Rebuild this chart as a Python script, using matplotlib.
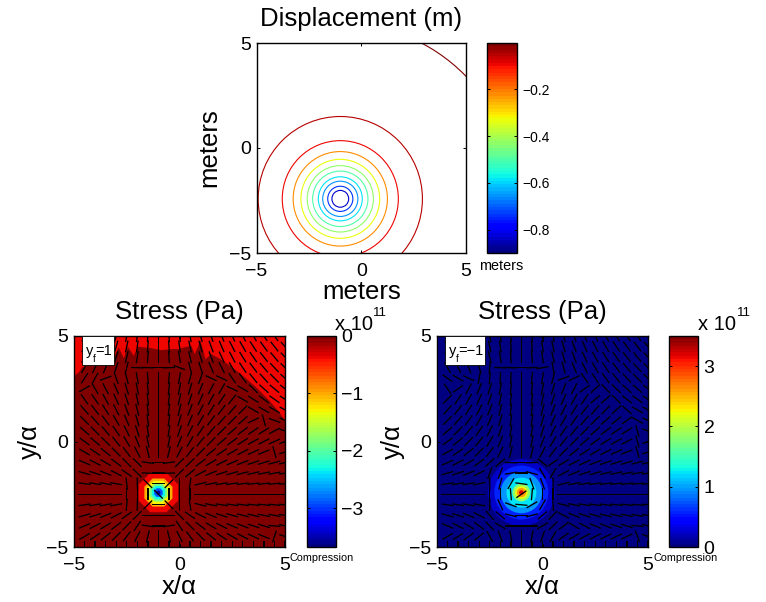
import numpy as np
import matplotlib
matplotlib.use("Agg")
import matplotlib.pyplot as plt
from matplotlib.cm import ScalarMappable
from matplotlib.colors import Normalize
from matplotlib.patches import Circle, RegularPolygon, Rectangle

plt.rcParams['font.family'] = ['Liberation Sans', 'DejaVu Sans']
plt.rcParams['axes.unicode_minus'] = True

W, H = 766, 602

# source location
src_x, src_y = -1.0, -2.42

# displacement contours
disp_radii = [8.37, 3.92, 2.77, 2.25, 1.88, 1.58, 1.32, 1.05, 0.84, 0.60, 0.40]
disp_levels = [-0.012, -0.05, -0.10, -0.22, -0.33, -0.43, -0.50, -0.58, -0.66, -0.74, -0.83]
disp_range = (-0.898, -0.004)
disp_ticks = [-0.8, -0.6, -0.4, -0.2]

# left stress panel: nested bands
left_range = (-3.67, 0.0)
left_ticks = [-3, -2, -1, 0]
left_bg = 0.0
left_band_values = [-0.4, -1.0, -1.3, -1.85, -2.3, -2.9, -3.5]
left_band_radii = [1.01, 0.72, 0.60, 0.46, 0.34, 0.22, 0.10]
left_band_sides = [8, 8, 8, 8, 8, 8, 8]
left_red_value = -0.4
left_red_x = [-5.0, -5.0, -4.77, -4.62, -3.04, -2.88, -2.64, -2.44, -2.17, -1.96, -1.38, -0.9, -0.35,
              -0.07, 0.56, 0.72, 1.0, 1.23, 1.5, 1.95, 2.46, 3.09, 3.6, 4.2, 4.67, 5.0, 5.0]
left_red_y = [5.0, 3.1, 3.27, 3.51, 4.14, 4.46, 3.95, 4.49, 4.06, 4.49, 4.43, 4.33, 4.38,
              4.38, 4.54, 4.14, 4.77, 3.9, 4.14, 3.9, 3.55, 3.04, 2.6, 2.0, 1.46, 1.0, 5.0]

# right stress panel: nested bands
right_range = (0.0, 3.5)
right_ticks = [0, 1, 2, 3]
right_bg = 0.0
right_band_values = [0.25, 0.6, 0.95, 1.25, 1.85, 2.2, 2.6, 3.2]
right_band_radii = [1.58, 1.28, 0.98, 0.71, 0.42, 0.30, 0.22, 0.11]

# tick-mark grid for the principal stress directions
grid_x = [-4.5, -4, -3.5, -3, -2.5, -2, -1.5, -1, -0.5, 0, 0.5, 1, 1.5, 2, 2.5, 3, 3.5, 4, 4.5, 5]
grid_y = [5, 4.5, 4, 3.5, 3, 2.5, 2, 1.5, 1, 0.5, 0, -0.5, -1, -1.5, -2, -2.5, -3, -3.5, -4, -4.5, -5]

# direction in degrees at every grid point, rows from top to bottom
left_angles = [
    [65, 68, 72, 75, 79, 82, 86, 90, 94, 98, 101, 105, 108, 112, 115, 118, 121, 124, 126, 129],
    [63, 67, 70, 74, 78, 82, 86, 90, 94, 98, 102, 106, 110, 113, 117, 120, 123, 126, 128, 131],
    [62, 65, 69, 73, 77, 81, 86, 90, 94, 99, 103, 107, 111, 115, 118, 122, 125, 128, 130, 133],
    [60, 63, 67, 72, 76, 178, 178, 0, 2, 160, 104, 108, 113, 117, 120, 124, 127, 130, 133, 135],
    [57, 61, 20, 110, 105, 100, 95, 90, 85, 80, 75, 70, 155, 155, 124, 126, 129, 132, 135, 138],
    [30, 120, 117, 113, 107, 101, 96, 90, 84, 79, 73, 68, 63, 60, 155, 150, 136, 138, 140, 142],
    [125, 124, 119, 114, 108, 102, 96, 90, 84, 78, 72, 66, 61, 56, 52, 150, 148, 143, 145, 147],
    [131, 127, 122, 117, 111, 104, 97, 90, 83, 76, 69, 63, 58, 53, 49, 45, 150, 150, 150, 152],
    [135, 131, 126, 120, 113, 106, 98, 90, 82, 74, 67, 60, 54, 49, 45, 41, 25, 105, 160, 155],
    [139, 135, 130, 124, 117, 108, 99, 90, 81, 72, 63, 56, 50, 45, 41, 37, 34, 31, 28, 160],
    [144, 140, 135, 129, 121, 112, 101, 90, 79, 68, 59, 51, 45, 40, 36, 32, 29, 27, 24, 22],
    [150, 146, 141, 135, 127, 117, 104, 90, 76, 63, 53, 45, 39, 34, 30, 27, 24, 22, 105, 18],
    [157, 153, 149, 143, 135, 135, 172, 0, 8, 45, 45, 37, 31, 27, 23, 21, 18, 17, 15, 14],
    [164, 162, 158, 153, 145, 135, 178, 0, 2, 45, 40, 27, 22, 18, 16, 14, 13, 11, 10, 9],
    [172, 171, 170, 170, 97, 92, 135, 0, 45, 90, 82, 14, 11, 9, 8, 7, 6, 6, 5, 5],
    [0, 0, 0, 0, 90, 90, 90, 135, 90, 90, 90, 0, 0, 0, 0, 0, 0, 0, 0, 0],
    [8, 9, 10, 10, 85, 88, 45, 0, 135, 90, 98, 166, 169, 171, 172, 173, 174, 174, 175, 175],
    [16, 18, 22, 27, 35, 45, 0, 0, 0, 135, 146, 153, 158, 162, 164, 166, 167, 169, 170, 171],
    [23, 27, 31, 37, 45, 56, 172, 0, 8, 124, 135, 143, 149, 153, 157, 159, 162, 163, 175, 166],
    [30, 34, 39, 45, 53, 63, 76, 90, 104, 117, 127, 135, 141, 146, 150, 153, 156, 158, 72, 162],
    [90, 90, 90, 90, 90, 90, 90, 90, 90, 90, 90, 90, 90, 90, 90, 90, 90, 90, 90, 90],
]
right_angles = [
    [115, 112, 108, 105, 101, 98, 94, 90, 94, 98, 101, 105, 108, 112, 115, 118, 121, 124, 126, 129],
    [117, 113, 110, 106, 102, 98, 94, 90, 94, 98, 102, 106, 110, 113, 117, 120, 123, 126, 128, 131],
    [118, 115, 111, 107, 103, 99, 94, 90, 94, 99, 103, 107, 111, 115, 118, 122, 125, 128, 130, 133],
    [120, 117, 113, 108, 85, 178, 178, 0, 2, 10, 100, 105, 113, 117, 120, 124, 127, 130, 133, 135],
    [145, 150, 155, 80, 85, 88, 89, 90, 85, 82, 76, 20, 25, 125, 124, 126, 129, 132, 135, 138],
    [125, 35, 62, 68, 73, 79, 85, 90, 84, 79, 73, 68, 63, 35, 42, 135, 136, 138, 140, 142],
    [45, 56, 61, 66, 72, 78, 84, 90, 84, 78, 72, 66, 61, 56, 40, 42, 135, 143, 145, 147],
    [49, 53, 58, 63, 69, 76, 83, 90, 83, 76, 69, 63, 58, 53, 49, 45, 42, 140, 150, 152],
    [45, 49, 54, 60, 67, 74, 82, 90, 82, 74, 67, 60, 54, 49, 45, 41, 38, 35, 150, 155],
    [41, 45, 50, 56, 63, 72, 81, 90, 81, 72, 63, 56, 50, 45, 41, 37, 34, 31, 105, 160],
    [36, 40, 45, 51, 59, 68, 79, 90, 79, 68, 59, 51, 45, 40, 36, 32, 29, 27, 105, 20],
    [30, 34, 39, 45, 53, 63, 76, 90, 76, 63, 53, 45, 39, 34, 30, 27, 24, 22, 105, 18],
    [23, 27, 31, 37, 42, 40, 178, 0, 2, 140, 35, 31, 27, 24, 21, 19, 18, 17, 15, 14],
    [16, 18, 22, 27, 70, 70, 10, 0, 165, 120, 60, 27, 22, 18, 16, 14, 13, 11, 10, 9],
    [8, 9, 10, 12, 92, 75, 60, 172, 110, 110, 92, 14, 11, 9, 8, 7, 6, 6, 5, 5],
    [0, 0, 0, 0, 90, 90, 95, 35, 85, 90, 90, 0, 0, 0, 0, 0, 0, 0, 0, 0],
    [172, 171, 170, 170, 88, 115, 160, 175, 30, 60, 95, 166, 169, 171, 172, 173, 174, 174, 175, 175],
    [164, 162, 158, 153, 130, 140, 165, 0, 15, 40, 45, 153, 158, 162, 164, 166, 167, 169, 170, 171],
    [157, 153, 149, 143, 135, 150, 0, 0, 0, 30, 45, 37, 149, 153, 157, 159, 162, 163, 175, 166],
    [30, 32, 35, 38, 120, 110, 100, 90, 80, 70, 60, 35, 30, 28, 26, 25, 25, 25, 110, 160],
    [90, 90, 90, 90, 90, 90, 90, 90, 90, 90, 90, 90, 90, 90, 90, 90, 90, 90, 90, 90],
]

cmap = plt.get_cmap('jet', 64)
fig = plt.figure(figsize=(W / 100, H / 100), dpi=100)


def box(x0, y0, x1, y1):
    return [x0 / W, 1 - y1 / H, (x1 - x0) / W, (y1 - y0) / H]


def px_text(x, y, s, **kw):
    return fig.text(x / W, 1 - y / H, s, **kw)


def style_axes(ax):
    ax.set_xlim(-5, 5)
    ax.set_ylim(-5, 5)
    ax.set_xticks([-5, 0, 5])
    ax.set_yticks([-5, 0, 5])
    ax.tick_params(direction='in', length=2.5, width=0.7, top=True, right=True,
                   labelsize=14)
    ax.tick_params(axis='x', pad=7)
    ax.tick_params(axis='y', pad=4)
    for s in ax.spines.values():
        s.set_linewidth(1.0)


def colorbar(rect, rng, ticks, labels=None, size=14):
    cax = fig.add_axes(box(*rect))
    sm = ScalarMappable(norm=Normalize(*rng), cmap=cmap)
    cb = fig.colorbar(sm, cax=cax)
    cb.set_ticks(ticks)
    if labels is not None:
        cb.set_ticklabels(labels)
    cax.tick_params(direction='in', length=2.5, width=0.7, labelsize=size, pad=4,
                    left=True, right=True)
    cb.outline.set_linewidth(1.0)
    return cb


def draw_ticks(ax, angles):
    X, Y = np.meshgrid(grid_x, grid_y)
    a = np.radians(np.array(angles, dtype=float))
    seg = 0.58
    ax.quiver(X, Y, seg * np.cos(a), seg * np.sin(a), pivot='mid', angles='xy',
              scale_units='xy', scale=1, width=0.0062, headwidth=1, headlength=0,
              headaxislength=0, color='black', zorder=5)


# ---------- top panel ----------
ax = fig.add_axes(box(256.5, 43, 466, 253))
style_axes(ax)
norm = Normalize(*disp_range)
for r, v in zip(disp_radii, disp_levels):
    ax.add_patch(Circle((src_x, src_y), r, fill=False, ec=cmap(norm(v)), lw=0.8))
ax.set_xlabel('meters', fontsize=18.5, labelpad=0)
ax.set_ylabel('meters', fontsize=18.5, labelpad=5)
ax.set_title('Displacement (m)', fontsize=18.5, pad=12)
colorbar((487, 43, 517, 253), disp_range, disp_ticks,
         ['\u22120.8', '\u22120.6', '\u22120.4', '\u22120.2'], size=10)
px_text(501.5, 266, 'meters', fontsize=10.4, ha='center', va='center')

# ---------- bottom left ----------
ax = fig.add_axes(box(74, 336, 285, 547))
style_axes(ax)
norm = Normalize(*left_range)
ax.set_facecolor(cmap(norm(left_bg)))
ax.fill(left_red_x, left_red_y, color=cmap(norm(left_red_value)), lw=0, zorder=1)
for r, v, n in zip(left_band_radii, left_band_values, left_band_sides):
    ax.add_patch(RegularPolygon((src_x, src_y), n, radius=r, orientation=np.pi / 8,
                                fc=cmap(norm(v)), ec='none', zorder=2))
draw_ticks(ax, left_angles)
ax.add_patch(Rectangle((-4.62, 3.63), 1.52, 1.36, fc='white', ec='black', lw=0.6, zorder=6))
ax.text(-4.42, 4.3, 'y', fontsize=10.5, ha='left', va='center', zorder=7)
ax.text(-4.1, 3.93, 'f', fontsize=7, ha='left', va='center', zorder=7)
ax.text(-3.97, 4.3, '=1', fontsize=10.5, ha='left', va='center', zorder=7)
ax.set_xlabel('x/\u03b1', fontsize=18.5, labelpad=1)
ax.set_ylabel('y/\u03b1', fontsize=18.5, labelpad=3)
ax.set_title('Stress (Pa)', fontsize=18.5, pad=12)
colorbar((306.5, 336, 335.5, 547), left_range, left_ticks,
         ['\u22123', '\u22122', '\u22121', '0'])
px_text(322, 558, 'Compression', fontsize=7.8, ha='center', va='center')
px_text(335, 330, 'x 10', fontsize=14.5, ha='left', va='baseline')
px_text(373, 316, '11', fontsize=9.5, ha='left', va='baseline')

# ---------- bottom right ----------
ax = fig.add_axes(box(437, 336, 648, 547))
style_axes(ax)
norm = Normalize(*right_range)
ax.set_facecolor(cmap(norm(right_bg)))
for r, v in zip(right_band_radii, right_band_values):
    ax.add_patch(Circle((src_x + 0.0, src_y), r, fc=cmap(norm(v)), ec='none', zorder=2))
draw_ticks(ax, right_angles)
ax.add_patch(Rectangle((-4.62, 3.63), 1.9, 1.36, fc='white', ec='black', lw=0.6, zorder=6))
ax.text(-4.42, 4.3, 'y', fontsize=10.5, ha='left', va='center', zorder=7)
ax.text(-4.1, 3.93, 'f', fontsize=7, ha='left', va='center', zorder=7)
ax.text(-3.97, 4.3, '=\u22121', fontsize=10.5, ha='left', va='center', zorder=7)
ax.set_xlabel('x/\u03b1', fontsize=18.5, labelpad=1)
ax.set_ylabel('y/\u03b1', fontsize=18.5, labelpad=3)
ax.set_title('Stress (Pa)', fontsize=18.5, pad=12)
colorbar((669, 336, 698, 547), right_range, right_ticks, ['0', '1', '2', '3'])
px_text(686, 558, 'Compression', fontsize=7.8, ha='center', va='center')
px_text(698, 330, 'x 10', fontsize=14.5, ha='left', va='baseline')
px_text(737, 316, '11', fontsize=9.5, ha='left', va='baseline')

fig.savefig('out.png', dpi=100)
